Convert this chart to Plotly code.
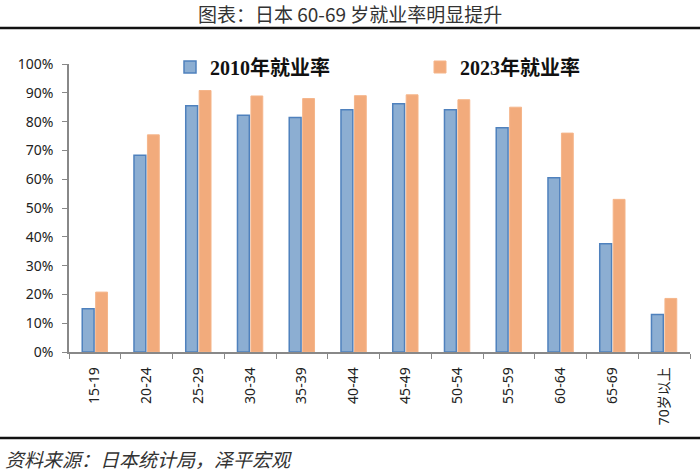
import plotly.graph_objects as go

categories = ["15-19", "20-24", "25-29", "30-34", "35-39", "40-44", "45-49",
              "50-54", "55-59", "60-64", "65-69", "70岁以上"]
rate_2010 = [0.150, 0.683, 0.855, 0.822, 0.814, 0.841, 0.862, 0.841, 0.779, 0.605, 0.376, 0.130]
rate_2023 = [0.208, 0.754, 0.908, 0.889, 0.880, 0.890, 0.893, 0.876, 0.850, 0.760, 0.530, 0.186]
series_names = ["2010年就业率", "2023年就业率"]
title_text = "图表：日本 60-69 岁就业率明显提升"
source_text = "资料来源：日本统计局，泽平宏观"

W, H = 700, 473
L, R, T, B = 69, 10, 64, 121
pw, ph = W - L - R, H - T - B

def px_x(x):
    return (x - L) / pw

def px_y(y):
    return (H - B - y) / ph

fig = go.Figure()
fig.add_trace(go.Bar(
    x=categories, y=rate_2010, name=series_names[0], legend="legend",
    marker=dict(color="#8caed2", line=dict(color="#4f81bd", width=1.5)),
))
fig.add_trace(go.Bar(
    x=categories, y=rate_2023, name=series_names[1], legend="legend2",
    marker=dict(color="#f2ab7c", line=dict(color="#f5b58a", width=1)),
))

legend_font = dict(family="Liberation Serif, Noto Sans CJK SC", size=20, color="#111111", weight="bold")

fig.update_layout(
    width=W, height=H,
    margin=dict(l=L, r=R, t=T, b=B),
    paper_bgcolor="white", plot_bgcolor="white",
    barmode="group", bargap=0.48, bargroupgap=0.12,
    showlegend=True,
    legend=dict(
        orientation="h", x=px_x(170), y=px_y(67), xanchor="left", yanchor="middle",
        font=legend_font, bgcolor="rgba(0,0,0,0)", itemwidth=30,
    ),
    legend2=dict(
        orientation="h", x=px_x(420), y=px_y(67), xanchor="left", yanchor="middle",
        font=legend_font, bgcolor="rgba(0,0,0,0)", itemwidth=30,
    ),
    font=dict(family="Noto Sans, Noto Sans CJK SC", color="#222222"),
    xaxis=dict(
        type="category", tickangle=-90, tickson="boundaries",
        ticks="outside", ticklen=5, tickcolor="#888888",
        showline=True, linecolor="#888888", linewidth=1.5,
        ticklabelstandoff=8,
        showgrid=False, tickfont=dict(size=14, family="Noto Sans, Noto Sans CJK SC", color="#222222"),
    ),
    yaxis=dict(
        range=[0, 1], dtick=0.1, tickformat=".0%",
        ticks="outside", ticklen=5, tickcolor="#888888",
        showline=True, linecolor="#888888", linewidth=1.5,
        ticklabelstandoff=6,
        showgrid=False, zeroline=False,
        tickfont=dict(size=14, family="Noto Sans", color="#222222"),
    ),
    shapes=[
        dict(type="line", xref="paper", yref="paper", x0=px_x(0), x1=px_x(700),
             y0=px_y(28), y1=px_y(28), line=dict(color="#111111", width=2.5)),
        dict(type="line", xref="paper", yref="paper", x0=px_x(0), x1=px_x(700),
             y0=px_y(438), y1=px_y(438), line=dict(color="#111111", width=2.5)),
    ],
    annotations=[
        dict(text=title_text, xref="paper", yref="paper", x=px_x(350), y=px_y(13),
             xanchor="center", yanchor="middle", showarrow=False,
             font=dict(size=19, family="Noto Sans CJK SC", color="#333333")),
        dict(text="<i>" + source_text + "</i>", xref="paper", yref="paper", x=px_x(3), y=px_y(458),
             xanchor="left", yanchor="middle", showarrow=False,
             font=dict(size=19, family="Noto Sans CJK SC", color="#333333")),
    ],
)

fig.write_html("out.html")
